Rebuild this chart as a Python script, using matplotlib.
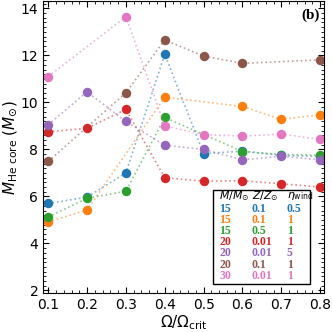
import matplotlib
matplotlib.use("Agg")
import matplotlib.pyplot as plt
from matplotlib.ticker import MultipleLocator
from matplotlib.patches import Rectangle

# ---- data ----
colors = ["#1f77b4", "#ff7f0e", "#2ca02c", "#d62728", "#9467bd", "#8c564b", "#e377c2"]
masses = ["15", "15", "15", "20", "20", "20", "30"]
metals = ["0.1", "0.1", "0.5", "0.01", "0.01", "0.1", "0.01"]
etas = ["0.5", "1", "1", "1", "5", "1", "1"]

x_blue = [0.1, 0.2, 0.3, 0.4, 0.5, 0.6, 0.7, 0.8]
y_blue = [5.7, 5.97, 7.0, 12.05, 7.82, 7.93, 7.75, 7.7]
x_orange = [0.1, 0.2, 0.4, 0.6, 0.7, 0.8]
y_orange = [4.92, 5.42, 10.22, 9.83, 9.28, 9.47]
x_green = [0.1, 0.2, 0.3, 0.4, 0.6, 0.7, 0.8]
y_green = [5.13, 5.92, 6.22, 9.36, 7.91, 7.78, 7.76]
x_red = [0.1, 0.2, 0.3, 0.4, 0.5, 0.6, 0.7, 0.8]
y_red = [8.75, 8.9, 9.7, 6.8, 6.65, 6.67, 6.54, 6.4]
x_purple = [0.1, 0.2, 0.3, 0.4, 0.5, 0.6, 0.7, 0.8]
y_purple = [9.05, 10.45, 9.19, 8.18, 8.0, 7.56, 7.71, 7.56]
x_brown = [0.1, 0.3, 0.4, 0.5, 0.6, 0.8]
y_brown = [7.49, 10.41, 12.66, 11.97, 11.66, 11.81]
x_pink = [0.1, 0.3, 0.4, 0.5, 0.6, 0.7, 0.8]
y_pink = [11.1, 13.65, 9.0, 8.63, 8.57, 8.65, 8.43]

xs = [x_blue, x_orange, x_green, x_red, x_purple, x_brown, x_pink]
ys = [y_blue, y_orange, y_green, y_red, y_purple, y_brown, y_pink]

xticks = [0.1, 0.2, 0.3, 0.4, 0.5, 0.6, 0.7, 0.8]
yticks = [2, 4, 6, 8, 10, 12, 14]

fig = plt.figure(figsize=(3.32, 3.32), dpi=100)
ax = fig.add_axes([0.130, 0.118, 0.846, 0.878])

for x, y, c in zip(xs, ys, colors):
    ax.plot(x, y, ls=":", lw=1.2, color=c, alpha=0.55)
    ax.plot(x, y, ls="none", marker="o", ms=6.8, color=c, mec="none")

ax.set_xlim(0.087, 0.81)
ax.set_ylim(1.9, 14.3)
ax.set_xticks(xticks)
ax.set_yticks(yticks)
ax.set_xticklabels([f"{t:.1f}" for t in xticks])
ax.xaxis.set_minor_locator(MultipleLocator(0.02))
ax.yaxis.set_minor_locator(MultipleLocator(0.2))
ax.tick_params(which="both", direction="in", top=True, right=True, labelsize=10)
ax.tick_params(which="major", length=4, width=0.8)
ax.tick_params(which="minor", length=2, width=0.6)
ax.set_xlabel(r"$\Omega/\Omega_{\rm crit}$", fontsize=11, labelpad=1)
ax.set_ylabel(r"$M_{\rm He\ core}$ ($M_{\odot}$)", fontsize=11, labelpad=1)

# legend table
ax.add_patch(Rectangle((0.605, 0.030), 0.345, 0.322, transform=ax.transAxes,
                       fill=True, facecolor="white", edgecolor="black", lw=1.0, zorder=5))
colx = [0.627, 0.742, 0.867]
hy = 0.332
ax.text(colx[0], hy, r"$M/M_{\odot}$", transform=ax.transAxes, fontsize=7.8, va="center", zorder=6)
ax.text(colx[1], hy, r"$Z/Z_{\odot}$", transform=ax.transAxes, fontsize=7.8, va="center", zorder=6)
ax.text(colx[2], hy, r"$\eta_{\rm wind}$", transform=ax.transAxes, fontsize=7.8, va="center", zorder=6)
row0 = 0.289
dy = 0.0385
for i, (m, z, e, c) in enumerate(zip(masses, metals, etas, colors)):
    yy = row0 - i * dy
    for cx, t in zip(colx, [m, z, e]):
        ax.text(cx, yy, t, transform=ax.transAxes, fontsize=8.5, color=c,
                family="Liberation Serif", weight="bold", va="center", zorder=6)

ax.text(0.986, 0.953, "(b)", transform=ax.transAxes, fontsize=11, weight="bold",
        family="Liberation Serif", ha="right", va="center")

fig.savefig("out.png", dpi=100)
